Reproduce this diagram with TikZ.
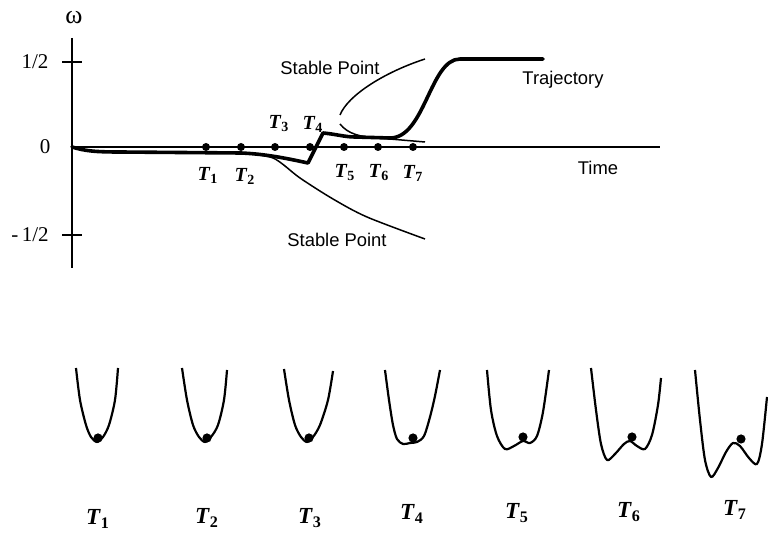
\documentclass[tikz,border=0pt]{standalone}
\usepackage{fontspec}
\setmainfont{Liberation Serif}
\setsansfont{Liberation Sans}
\usetikzlibrary{positioning}
\newcommand{\Tsub}[1]{\textbf{\textit{T}\textsubscript{\textup{#1}}}}

\begin{document}
\begin{tikzpicture}[
    x=0.5pt, y=-0.5pt,
    axis/.style={line width=1pt},
    traj/.style={line width=1.8pt, line join=round, line cap=round},
    branch/.style={line width=0.75pt},
    well/.style={line width=1.1pt, line join=round},
    dot/.style={circle, fill, inner sep=0pt, minimum size=4pt},
    ball/.style={circle, fill, inner sep=0pt, minimum size=4.6pt},
    ticklab/.style={font=\fontsize{10.5}{12}\selectfont},
    plotlab/.style={font=\sffamily\fontsize{9.2}{11}\selectfont},
    tlab/.style={font=\fontsize{10}{12}\selectfont, inner sep=1pt},
    wlab/.style={font=\fontsize{11.5}{14}\selectfont, inner sep=1pt},
  ]
  \useasboundingbox (0,0) rectangle (768,534);

  % =================== Axes ===================
  \draw[axis] (72,38) -- (72,268);
  \draw[axis] (72,147) -- (660,147);
  \draw[axis] (62,62) -- (82,62);
  \draw[axis] (62,235) -- (82,235);

  \node[font=\fontsize{13}{14}\selectfont] (wlbl) at (74,18) {ω};
  \node[ticklab] (half) at (35,62) {1/2};
  \node[ticklab] (zero) at (45,147) {0};
  \node[ticklab] (mhalf) at (30,235) {-\,1/2};
  \node[plotlab] (time) at (598,168) {Time};

  % sample instants on the time axis
  \foreach \i/\x in {1/206,2/241,3/275,4/310,5/344,6/378,7/413}
    \node[dot] (t\i) at (\x,147) {};

  \node[tlab] at (208,175) {\Tsub{1}};
  \node[tlab] at (245,176) {\Tsub{2}};
  \node[tlab] at (279,124) {\Tsub{3}};
  \node[tlab] at (313,124) {\Tsub{4}};
  \node[tlab] at (345,173) {\Tsub{5}};
  \node[tlab] at (379,173) {\Tsub{6}};
  \node[tlab] at (413,173) {\Tsub{7}};

  % =================== Stable points ===================
  % upper branch
  \draw[branch] (340,115) .. controls (348,95) and (385,72) .. (425,59);
  % unstable / middle branch
  \draw[branch] (340,124) .. controls (348,134) and (360,137) .. (378,138) -- (425,142);
  % lower branch
  \draw[branch] plot[smooth] coordinates {(241,153) (273,158) (300,178) (333,199) (367,217) (425,239)};

  \node[plotlab] (sp1) at (330,68) {Stable Point};
  \node[plotlab] (sp2) at (337,240) {Stable Point};

  % =================== Trajectory ===================
  \draw[traj] (72,147) .. controls (85,151) and (95,152) .. (120,152) -- (241,153)
    .. controls (265,154) and (285,158) .. (308,163) -- (323,133)
    .. controls (335,134) and (345,137) .. (355,137) -- (390,138)
    .. controls (425,138) and (430,59) .. (460,59) -- (543,59);
  \node[plotlab] (trj) at (563,80) {Trajectory};

  % =================== Potential wells ===================
  % T1
  \draw[well] plot[smooth] coordinates {(76,368) (80,400) (86,425) (91,437) (97,442) (103,437) (109,425) (115,400) (118,368)};
  \node[ball] (b1) at (98,438) {};
  % T2
  \draw[well] plot[smooth] coordinates {(182,368) (187,400) (193,425) (199,437) (205,442) (211,437) (218,425) (224,400) (227,370)};
  \node[ball] (b2) at (207,438) {};
  % T3
  \draw[well] plot[smooth] coordinates {(284,369) (289,400) (295,425) (301,437) (307,442) (313,437) (320,425) (328,400) (333,371)};
  \node[ball] (b3) at (309,438) {};
  % T4
  \draw[well] plot[smooth] coordinates {(385,370) (389,400) (393,425) (397,439) (403,444) (410,443) (417,442) (424,436) (430,417) (435,396) (440,370)};
  \node[ball] (b4) at (413,438) {};
  % T5
  \draw[well] plot[smooth] coordinates {(487,370) (491,410) (497,436) (505,449) (514,446) (523,441) (530,443) (537,436) (543,412) (549,370)};
  \node[ball] (b5) at (523,437) {};
  % T6
  \draw[well] plot[smooth] coordinates {(591,368) (596,410) (601,444) (607,460) (615,454) (624,444) (630,441) (637,446) (645,449) (652,435) (658,405) (661,378)};
  \node[ball] (b6) at (632,437) {};
  % T7
  \draw[well] plot[smooth] coordinates {(695,370) (700,420) (705,460) (711,477) (718,468) (726,452) (733,443) (740,446) (749,458) (757,464) (762,444) (767,397)};
  \node[ball] (b7) at (741,439) {};

  % well labels
  \node[wlab] (w1) at (98,519) {\Tsub{1}};
  \node[wlab] (w2) at (207,518) {\Tsub{2}};
  \node[wlab] (w3) at (310,518) {\Tsub{3}};
  \node[wlab] (w4) at (412,514) {\Tsub{4}};
  \node[wlab] (w5) at (517,513) {\Tsub{5}};
  \node[wlab] (w6) at (629,512) {\Tsub{6}};
  \node[wlab] (w7) at (735,510) {\Tsub{7}};

\end{tikzpicture}
\end{document}
